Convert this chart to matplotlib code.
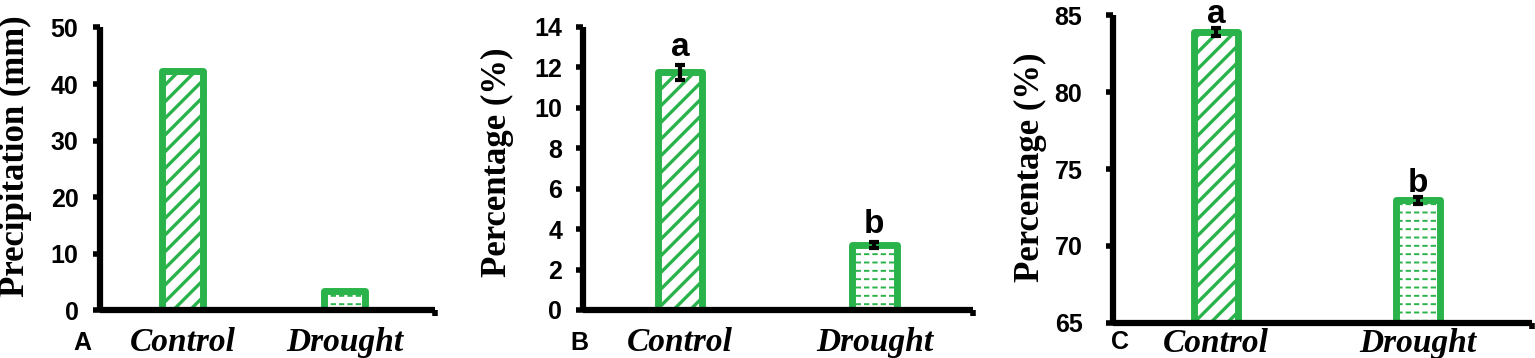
import matplotlib
matplotlib.use('Agg')
import matplotlib.pyplot as plt
import numpy as np

# ---------------- data ----------------
categories = ['Control', 'Drought']
precip_mm = [42.4, 3.5]
moisture_b = [11.75, 3.2]
moisture_b_err = [0.35, 0.15]
moisture_c = [83.9, 72.95]
moisture_c_err = [0.25, 0.2]
letters_b = ['a', 'b']
letters_c = ['a', 'b']
yticks_a = [0, 10, 20, 30, 40, 50]
yticks_b = [0, 2, 4, 6, 8, 10, 12, 14]
yticks_c = [65, 70, 75, 80, 85]
panel_tags = ['A', 'B', 'C']
ylabels = ['Precipitation (mm)', 'Percentage (%)', 'Percentage (%)']

GREEN = '#2BB34B'
SANS = 'Liberation Sans'
SERIF = 'Liberation Serif'

fig = plt.figure(figsize=(15.35, 3.58), dpi=100)

axA = fig.add_axes([0.06515, 0.1327, 0.2182, 0.7905])
axB = fig.add_axes([0.3798, 0.1341, 0.2541, 0.7905])
axC = fig.add_axes([0.7251, 0.0989, 0.2730, 0.8580])


def hatch_lw(patches, lw):
    for p in patches:
        if hasattr(p, 'set_hatch_linewidth'):
            p.set_hatch_linewidth(lw)


def draw_bars(ax, values, width):
    x = np.arange(len(values))
    with plt.rc_context({'hatch.linewidth': 2.4}):
        b1 = ax.bar(x[0], values[0], width, color='white', edgecolor=GREEN,
                    hatch='//', linewidth=0, zorder=2)
    hatch_lw(b1, 2.4)
    with plt.rc_context({'hatch.linewidth': 1.4}):
        b2 = ax.bar(x[1], values[1], width, color='white', edgecolor=GREEN,
                    hatch='--', linewidth=0, zorder=2)
    hatch_lw(b2, 1.4)
    with plt.rc_context({'hatch.linewidth': 2.2}):
        b3 = ax.bar(x[1], values[1], width, facecolor='none', edgecolor='white',
                    hatch='||', linewidth=0, zorder=2.1)
    hatch_lw(b3, 2.2)
    b4 = ax.bar(x, values, width, facecolor='none', edgecolor=GREEN,
                linewidth=5, zorder=2.5)
    for p in b4:
        p.set_joinstyle('round')
    return x


def style_axis(ax, yticks, xlim, ypad, xpad):
    for s in ['top', 'right']:
        ax.spines[s].set_visible(False)
    for s in ['left', 'bottom']:
        ax.spines[s].set_linewidth(4.5)
        ax.spines[s].set_zorder(3)
        ax.spines[s].set_capstyle('butt')
    ax.set_ylim(yticks[0], yticks[-1])
    ax.set_yticks(yticks)
    ax.set_xlim(*xlim)
    ax.tick_params(axis='y', direction='out', length=5, width=4, pad=ypad)
    ax.set_xticks([0, 1])
    ax.set_xticklabels(categories)
    ax.tick_params(axis='x', which='major', length=0, pad=xpad)
    ax.set_xticks([xlim[1]], minor=True)
    ax.tick_params(axis='x', which='minor', direction='out', length=4, width=4)
    for lab in ax.get_yticklabels():
        lab.set_fontfamily(SANS)
        lab.set_fontweight('bold')
        lab.set_fontsize(18)
    for lab in ax.get_xticklabels():
        lab.set_fontfamily(SERIF)
        lab.set_fontweight('bold')
        lab.set_fontstyle('italic')
        lab.set_fontsize(24)


def add_errors(ax, x, values, errs, letters, offset):
    ax.errorbar(x, values, yerr=errs, fmt='none', ecolor='black', elinewidth=3,
                capsize=3.5, capthick=3, zorder=4, clip_on=False)
    for i in range(len(values)):
        ax.annotate(letters[i], (x[i], values[i] + errs[i]), xytext=(0, offset),
                    textcoords='offset points', ha='center', va='baseline',
                    fontsize=24, fontweight='bold', family=SANS,
                    annotation_clip=False)


# Panel A
xa = draw_bars(axA, precip_mm, 0.25)
style_axis(axA, yticks_a, (-0.508, 1.558), 10.5, 12)

# Panel B
xb = draw_bars(axB, moisture_b, 0.23)
style_axis(axB, yticks_b, (-0.50, 1.508), 10, 12)
add_errors(axB, xb, moisture_b, moisture_b_err, letters_b, 7)

# Panel C
xc = draw_bars(axC, moisture_c, 0.22)
style_axis(axC, yticks_c, (-0.51, 1.565), 17, 4)
add_errors(axC, xc, moisture_c, moisture_c_err, letters_c, 4)

# y labels
ylab_pos = [(0.0098, 0.563), (0.3238, 0.546), (0.671, 0.5335)]
for (px, py), t in zip(ylab_pos, ylabels):
    fig.text(px, py, t, rotation=90, ha='center', va='center',
             family=SERIF, fontweight='bold', fontsize=25)

# panel tags
tag_pos = [(0.0476, 0.0223), (0.3713, 0.0223), (0.7238, 0.025)]
for (px, py), t in zip(tag_pos, panel_tags):
    fig.text(px, py, t, ha='left', va='baseline', family=SANS,
             fontweight='bold', fontsize=18)

fig.savefig('out.png', dpi=100)
